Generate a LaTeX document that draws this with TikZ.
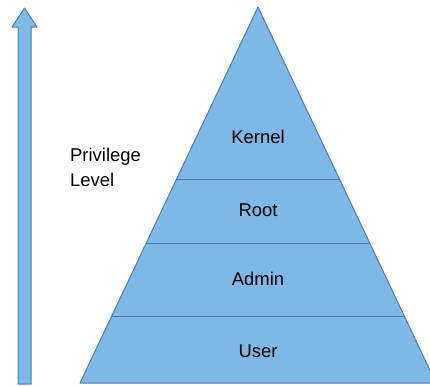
\documentclass[tikz,border=0pt]{standalone}
\usepackage{fontspec}
\setmainfont{Liberation Sans}
\usetikzlibrary{calc}
\definecolor{layerfill}{HTML}{7EB8E6}
\definecolor{layerline}{HTML}{4F7DB3}
\begin{document}
\begin{tikzpicture}[x=1bp, y=-1bp,
    layer/.style = {draw=layerline, fill=layerfill, line width=1bp, line join=round},
    divider/.style = {draw=layerline, line width=1bp},
    lbl/.style = {font=\fontsize{18.5}{26}\selectfont, inner sep=0pt}
]
\useasboundingbox (0,0) rectangle (430,386);
\clip (0,0) rectangle (430,386);

% Arrow on the left
\draw [layer] (18,384) -- (18,27) -- (12,27) -- (24.5,8) -- (37,27) -- (31,27) -- (31,384) -- cycle;
\node (priv) [lbl, align=left, anchor=north west] at (70,147.5) {Privilege\\Level};

% Pyramid outline
\coordinate (apex) at (258,7);
\coordinate (bl) at (80,383);
\coordinate (br) at (436,383);
\draw [layer] (apex) -- (bl) -- (br) -- cycle;

% Layer dividers
\draw [divider] ($(apex)!0.460!(bl)$) -- ($(apex)!0.460!(br)$);
\draw [divider] ($(apex)!0.628!(bl)$) -- ($(apex)!0.628!(br)$);
\draw [divider] ($(apex)!0.824!(bl)$) -- ($(apex)!0.824!(br)$);

% Layer labels
\node (kernel) [lbl] at (258,137) {Kernel};
\node (root) [lbl] at (258,210) {Root};
\node (admin) [lbl] at (258,279) {Admin};
\node (user) [lbl] at (258,351) {User};

\end{tikzpicture}
\end{document}
